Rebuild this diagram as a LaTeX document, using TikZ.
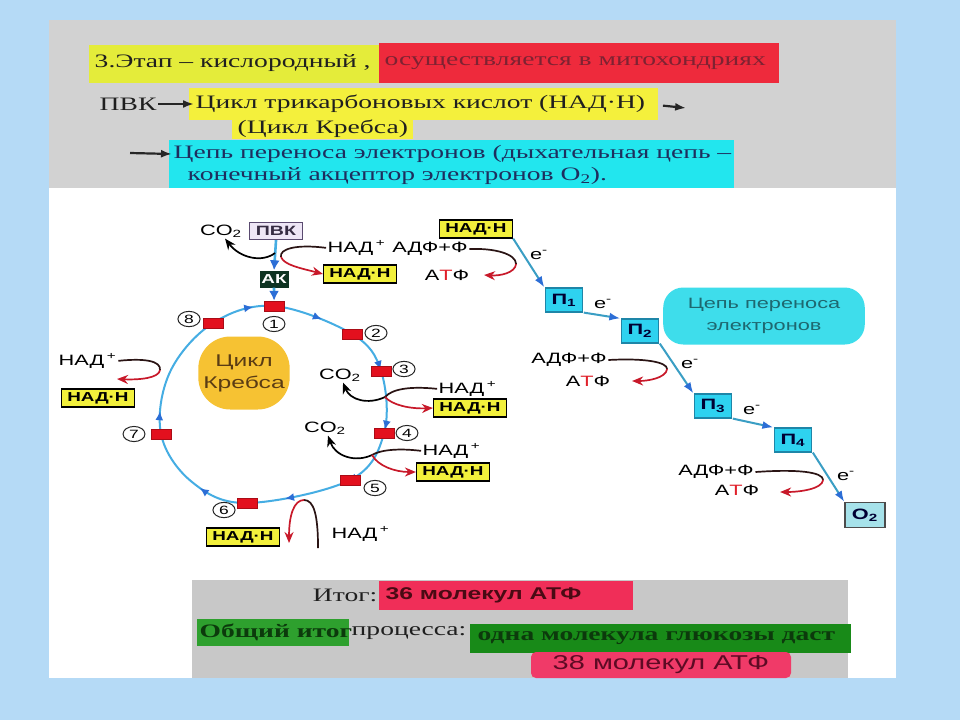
\documentclass[tikz,border=0pt]{standalone}
\usepackage{fontspec}
\setmainfont{Liberation Serif}
\setsansfont{Liberation Sans}
\usepackage{tikz}
\usetikzlibrary{arrows.meta,decorations.markings,calc}

\definecolor{bgblue}{HTML}{B5DAF6}
\definecolor{topgray}{HTML}{D2D2D2}
\definecolor{botgray}{HTML}{C8C8C8}
\definecolor{hyellow}{HTML}{E4EC3A}
\definecolor{hyellowb}{HTML}{F4F03C}
\definecolor{hred}{HTML}{EE2A3C}
\definecolor{hredtext}{HTML}{7E2232}
\definecolor{hcyan}{HTML}{22E6EE}
\definecolor{hcyantext}{HTML}{1E2E5E}
\definecolor{cycline}{HTML}{45ADE3}
\definecolor{arrowblue}{HTML}{2C6ED6}
\definecolor{cycred}{HTML}{E3101E}
\definecolor{nadyel}{HTML}{F2F03C}
\definecolor{pvkfill}{HTML}{EEE6F6}
\definecolor{pvkborder}{HTML}{5A4A70}
\definecolor{akfill}{HTML}{0E3321}
\definecolor{krebsor}{HTML}{F6C233}
\definecolor{krebstext}{HTML}{5A3C14}
\definecolor{chaincyan}{HTML}{2ED2F0}
\definecolor{chainborder}{HTML}{1E86A8}
\definecolor{chainline}{HTML}{3A9EC4}
\definecolor{etcfill}{HTML}{3EDDEB}
\definecolor{etctext}{HTML}{1E6870}
\definecolor{otwofill}{HTML}{A6E2EA}
\definecolor{nadred}{HTML}{C8192A}
\definecolor{darkline}{HTML}{2A1414}
\definecolor{atpT}{HTML}{E0202A}
\definecolor{sumred}{HTML}{F02E58}
\definecolor{sumtext}{HTML}{4A0A14}
\definecolor{greena}{HTML}{2EA02E}
\definecolor{greenb}{HTML}{188A18}
\definecolor{greentext}{HTML}{0C3A0C}
\definecolor{pinkbox}{HTML}{F03A68}
\definecolor{pinktext}{HTML}{5E0A24}

\newcommand{\fsz}[1]{\fontsize{#1}{#1}\selectfont}
\newcommand{\nadp}{НАД\textsuperscript{\,+}}
\newcommand{\atpT}{А\textcolor{atpT}{Т}Ф}

\begin{document}
\begin{tikzpicture}[x=0.689655pt, y=-1pt, xscale=1.45, transform shape,
    hdr/.style={font=\rmfamily\fsz{19}, text=black!88, inner sep=1pt},
    hdrarrow/.style={draw=black!85, line width=2.2pt, -{Latex[length=11pt,width=8pt]}},
    lbl/.style={font=\sffamily\fsz{15}, inner sep=1pt},
    nadbox/.style={draw=black, line width=1.2pt, fill=nadyel, font=\sffamily\bfseries\fsz{13},
        minimum width=50pt, minimum height=18pt, inner sep=1pt},
    pvkbox/.style={draw=pvkborder, line width=1.2pt, fill=pvkfill, font=\sffamily\bfseries\fsz{13.5},
        text=pvkborder!60!black, minimum width=37pt, minimum height=17pt, inner sep=1pt},
    akbox/.style={fill=akfill, text=white, font=\sffamily\bfseries\fsz{13},
        minimum width=20pt, minimum height=17pt, inner sep=1pt},
    cycrect/.style={fill=cycred, draw=cycred!75!black, line width=0.4pt,
        minimum width=13.8pt, minimum height=10pt, inner sep=0pt},
    num/.style={circle, draw=black!85, line width=1pt, inner sep=1.6pt, font=\sffamily\fsz{12}},
    pbox/.style={draw=chainborder, line width=1.2pt, fill=chaincyan, text=black!80!blue,
        font=\sffamily\bfseries\fsz{15}, minimum width=26pt, minimum height=24pt, inner sep=0pt},
    otwobox/.style={pbox, fill=otwofill, draw=black!70, minimum width=27.5pt, minimum height=25pt},
    stem/.style={draw=cycline, line width=2.6pt, -{Latex[color=arrowblue,length=10pt,width=10pt]}},
    eflow/.style={draw=chainline, line width=2pt, -{Latex[color=arrowblue,length=11pt,width=8pt]}},
    blk/.style={draw=black, line width=1.7pt, -{Stealth[length=11pt,width=9pt]}},
    dkline/.style={draw=darkline, line width=1.7pt},
    redarr/.style={draw=nadred, line width=1.7pt, -{Stealth[length=11pt,width=9pt]}},
    cycmark/.style={postaction={decorate, decoration={markings,
        mark=at position #1 with {\arrow{Latex[color=arrowblue,length=9pt,width=8pt]}}}}}]

    % slide and panels
    \fill[bgblue] (0,0) rectangle (960,720);
    \fill[white] (49,188) rectangle (896,678);
    \fill[topgray] (49,20) rectangle (896,188);
    \fill[botgray] (192,580) rectangle (848,678);

    % header
    \fill[hyellow] (89,45) rectangle (379,83);
    \fill[hred] (379,43) rectangle (779,83);
    \fill[hyellowb] (189,88) rectangle (658,120);
    \fill[hyellowb] (232,118) rectangle (413,139);
    \fill[hcyan] (169,140) rectangle (734,188);
    \node[hdr, anchor=west] (stage) at (93,63) {3.Этап – кислородный ,};
    \node[hdr, anchor=west, text=hredtext] (where) at (383,63) {осуществляется в митохондриях};
    \node[hdr, anchor=west] (pvkH) at (98,104) {ПВК};
    \node[hdr, anchor=west] (tca) at (194,104) {Цикл трикарбоновых кислот (НАД·Н)};
    \node[hdr, anchor=west] (krebsH) at (236,129) {(Цикл Кребса)};
    \node[hdr, anchor=west, text=hcyantext] (etcA) at (172,154) {Цепь переноса электронов (дыхательная цепь –};
    \node[hdr, anchor=west, text=hcyantext] (etcB) at (186,176) {конечный акцептор электронов O\textsubscript{2}).};
    \coordinate (tcaout) at (686,108);
    \coordinate (etcin) at (130,153);
    \draw[hdrarrow] (pvkH.east) -- (tca.west);
    \draw[hdrarrow, shorten <=16pt] (tca.east) -- (tcaout);
    \draw[hdrarrow] (etcin) -- (etcA.west);

    % Krebs cycle
    \coordinate (c1) at (274,306);
    \coordinate (c2) at (352,334);
    \coordinate (c3) at (381,371);
    \coordinate (c4) at (384,433);
    \coordinate (c5) at (350,480);
    \coordinate (c6) at (247,503);
    \coordinate (c7) at (161,434);
    \coordinate (c8) at (213,323);
    \draw[cycline, line width=2pt, cycmark/.list={0.07,0.16,0.258,0.355,0.487,0.622,0.845,0.95}]
        plot[smooth cycle, tension=0.6] coordinates {(c1) (c2) (c3) (c4) (c5) (c6) (192,482) (c7) (170,372) (c8)};
    \node[fill=krebsor, rounded corners=32pt, minimum width=63pt, minimum height=73pt,
        align=center, font=\sffamily\fontsize{17}{22}\selectfont, text=krebstext] (krebs) at (244,373) {Цикл\\Кребса};
    \foreach \i in {1,...,8} {\node[cycrect] (r\i) at (c\i) {};}
    \foreach \i/\nx/\ny in {1/274/324, 2/376/333, 3/404/369, 4/407/433, 5/375/488, 6/224/510, 7/134/434, 8/189/319}
        {\node[num] (n\i) at (\nx,\ny) {\i};}

    % entry: PVK -> AK
    \node[pvkbox] (pvk) at (276,231) {ПВК};
    \node[akbox] (ak) at (274,279) {АК};
    \node[lbl] (co2t) at (221,231) {CO\textsubscript{2}};
    \node[lbl, anchor=base west] (nad1) at (326,252) {\nadp};
    \node[nadbox] (nadh1) at (360,274) {НАД·Н};
    \draw[stem] (pvk.south) -- (ak.north);
    \draw[stem] (ak.south) -- (r1.north);
    \coordinate (j0) at (275,253);
    \coordinate (k1) at (281,257);
    \draw[blk] (j0) .. controls (262,263) and (240,258) .. (co2t.-70);
    \draw[dkline] (nad1.west) .. controls (296,244) and (279,249) .. (k1);
    \draw[redarr] (k1) .. controls (284,265) and (300,268) .. (nadh1.west);

    % steps 3 and 4
    \coordinate (j3) at (385,397);
    \node[lbl] (co2a) at (340,375) {CO\textsubscript{2}};
    \node[lbl, anchor=base west] (nad3) at (437,393) {\nadp};
    \node[nadbox] (nadh3) at (470,408) {НАД·Н};
    \draw[blk] (j3) .. controls (368,405) and (350,400) .. (co2a.-75);
    \draw[dkline] (nad3.west) .. controls (410,386) and (392,389) .. (j3);
    \draw[redarr] (j3) .. controls (392,405) and (410,409) .. (nadh3.west);

    \coordinate (j4) at (372,455);
    \node[lbl] (co2b) at (325,428) {CO\textsubscript{2}};
    \node[lbl, anchor=base west] (nad4) at (421,455) {\nadp};
    \node[nadbox] (nadh4) at (453,472) {НАД·Н};
    \draw[blk] (j4) .. controls (355,463) and (335,456) .. (co2b.-75);
    \draw[dkline] (nad4.west) .. controls (398,448) and (380,450) .. (j4);
    \draw[redarr] (j4) .. controls (378,466) and (395,472) .. (nadh4.west);

    % step 8 (left)
    \node[lbl, anchor=base west] (nad7) at (57,365) {\nadp};
    \node[nadbox] (nadh7) at (98,398) {НАД·Н};
    \coordinate (k7) at (160,370);
    \coordinate (t7) at (117,379);
    \draw[dkline] (nad7.east) .. controls (145,358) and (161,361) .. (k7);
    \draw[redarr] (k7) .. controls (159,378) and (140,380) .. (t7);

    % step 6 (bottom)
    \node[nadbox] (nadh6) at (243,537) {НАД·Н};
    \node[lbl, anchor=base west] (nad6) at (330,538) {\nadp};
    \coordinate (a6) at (318,548);
    \coordinate (m6) at (304,500);
    \coordinate (t6) at (289,543);
    \draw[dkline] (a6) .. controls (318,515) and (314,500) .. (m6);
    \draw[redarr] (m6) .. controls (294,500) and (289,515) .. (t6);

    % electron transport chain
    \node[nadbox] (nadhE) at (476,229) {НАД·Н};
    \node[pbox] (p1) at (564,300) {П\textsubscript{1}};
    \node[pbox] (p2) at (640,331) {П\textsubscript{2}};
    \node[pbox] (p3) at (713,406) {П\textsubscript{3}};
    \node[pbox] (p4) at (793,440) {П\textsubscript{4}};
    \node[otwobox] (o2) at (865,515) {O\textsubscript{2}};
    \draw[eflow] (nadhE.south east) -- (p1.north west);
    \draw[eflow] (p1.south east) -- (p2.north west);
    \draw[eflow] (p2.south east) -- (p3.north west);
    \draw[eflow] (p3.south east) -- (p4.north west);
    \draw[eflow] (p4.south east) -- (o2.north west);
    \foreach \k/\ex/\ey in {1/539/255, 2/603/304, 3/690/364, 4/752/410, 5/846/476}
        {\node[lbl] (e\k) at (\ex,\ey) {e\textsuperscript{-}};}
    \node[fill=etcfill, rounded corners=20pt, minimum width=139pt, minimum height=57pt,
        align=center, font=\sffamily\fontsize{15}{22}\selectfont, text=etctext] (etc) at (764,316) {Цепь переноса\\электронов};

    \node[lbl] (adp1) at (430,249) {АДФ+Ф};
    \node[lbl] (atp1) at (447,275) {\atpT};
    \coordinate (b1) at (516,264);
    \coordinate (t1) at (484,275);
    \draw[dkline] (adp1.east) .. controls (495,248) and (516,254) .. (b1);
    \draw[redarr] (b1) .. controls (515,273) and (500,276) .. (t1);

    \node[lbl] (adp2) at (569,360) {АДФ+Ф};
    \node[lbl] (atp2) at (588,381) {\atpT};
    \coordinate (b2) at (667,369);
    \coordinate (t2) at (632,381);
    \draw[dkline] (adp2.east) .. controls (645,358) and (667,362) .. (b2);
    \draw[redarr] (b2) .. controls (666,378) and (648,381) .. (t2);

    \node[lbl] (adp3) at (716,472) {АДФ+Ф};
    \node[lbl] (atp3) at (737,490) {\atpT};
    \coordinate (b3) at (823,480);
    \coordinate (t3) at (780,492);
    \draw[dkline] (adp3.east) .. controls (798,469) and (823,472) .. (b3);
    \draw[redarr] (b3) .. controls (822,489) and (800,492) .. (t3);

    % totals
    \fill[sumred] (379,581) rectangle (633,610);
    \fill[greena] (197,619) rectangle (349,646);
    \fill[greenb] (470,624) rectangle (851,653);
    \fill[pinkbox, rounded corners=5pt] (531,652) rectangle (791,678);
    \node[hdr, anchor=east] (sumL) at (379,595) {Итог:};
    \node[anchor=west, inner sep=1pt, font=\sffamily\bfseries\fsz{17}, text=sumtext] (sum36) at (384,595) {36 молекул АТФ};
    \node[hdr, anchor=west, font=\rmfamily\bfseries\fsz{19}, text=greentext] (allL) at (198,632) {Общий итог};
    \node[hdr, anchor=west] (proc) at (350,633) {процесса:};
    \node[hdr, anchor=west, font=\rmfamily\bfseries\fsz{19}, text=greentext] (gluc) at (476,638) {одна молекула глюкозы даст};
    \node[inner sep=1pt, font=\sffamily\fsz{20}, text=pinktext] (sum38) at (661,665) {38 молекул АТФ};
\end{tikzpicture}
\end{document}
